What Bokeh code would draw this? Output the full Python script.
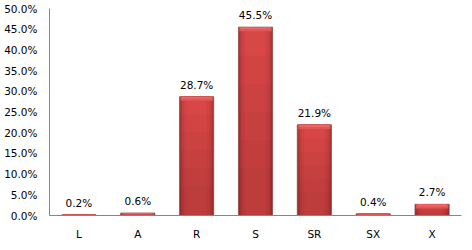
from bokeh.plotting import figure
from bokeh.models import ColumnDataSource, CustomJSTickFormatter
from bokeh.core.properties import value
from bokeh.embed import file_html
from bokeh.resources import INLINE

# Share of each class (percent)
categories = ["L", "A", "R", "S", "SR", "SX", "X"]
shares = [0.2, 0.6, 28.7, 45.5, 21.9, 0.4, 2.7]
y_ticks = [0, 5, 10, 15, 20, 25, 30, 35, 40, 45, 50]

FONT = "DejaVu Sans"
BAR_W = 0.58

p = figure(
    x_range=categories, y_range=(0, 50),
    width=472, height=250,
    output_backend="svg", toolbar_location=None,
    min_border_left=49, min_border_right=11,
    min_border_top=8, min_border_bottom=35,
)
p.outline_line_color = None
p.xgrid.visible = False
p.ygrid.visible = False
p.background_fill_color = "white"
p.border_fill_color = "white"

src = ColumnDataSource(dict(
    cat=categories,
    val=shares,
    lab=[f"{v:.1f}%" for v in shares],
))

# Base of each bar (darker edge tone)
p.vbar(x="cat", top="val", width=BAR_W, source=src,
       fill_color="#A33434", line_color="#8F4545", line_width=0.8)

# Nested narrower bars give a rounded horizontal shading
for w, c in [(0.54, "#B83A3A"), (0.50, "#C63F3F"), (0.44, "#D04343"), (0.34, "#D84747")]:
    p.vbar(x="cat", top="val", width=w, source=src,
           fill_color=c, line_color=None)

# Darken toward the base of each bar
for frac in [0.85, 0.7, 0.55, 0.4, 0.25]:
    p.vbar(x=categories, top=[v * frac for v in shares], width=BAR_W - 0.02,
           fill_color="#5A1010", fill_alpha=0.045, line_color=None)

# Soft light bevel along the top of each bar
bevel = [min(v * 0.6, 1.0) for v in shares]
p.vbar(x=categories, bottom=[v - b for v, b in zip(shares, bevel)], top=shares,
       width=BAR_W - 0.03, fill_color="#E05555", line_color=None)
p.vbar(x=categories, bottom=[v - b * 0.5 for v, b in zip(shares, bevel)], top=shares,
       width=BAR_W - 0.07, fill_color="#E86666", line_color=None)

# Value labels above the bars
p.text(x="cat", y="val", text="lab", source=src,
       text_align="center", text_baseline="bottom", y_offset=-6,
       text_font=value(FONT), text_font_size="10.5px", text_color="#000000")

# Axes
p.yaxis.ticker = y_ticks
p.yaxis.formatter = CustomJSTickFormatter(code="return tick.toFixed(1) + '%';")

for ax in (p.xaxis, p.yaxis):
    ax.axis_line_color = "#868686"
    ax.axis_line_width = 1
    ax.major_tick_line_color = None
    ax.minor_tick_line_color = None
    ax.major_tick_out = 0
    ax.major_tick_in = 0
    ax.major_label_text_font = FONT
    ax.major_label_text_font_size = "10.5px"
    ax.major_label_text_color = "#000000"

p.yaxis.major_label_standoff = 12
p.xaxis.major_label_standoff = 12

open("out.html", "w").write(file_html(p, INLINE))
